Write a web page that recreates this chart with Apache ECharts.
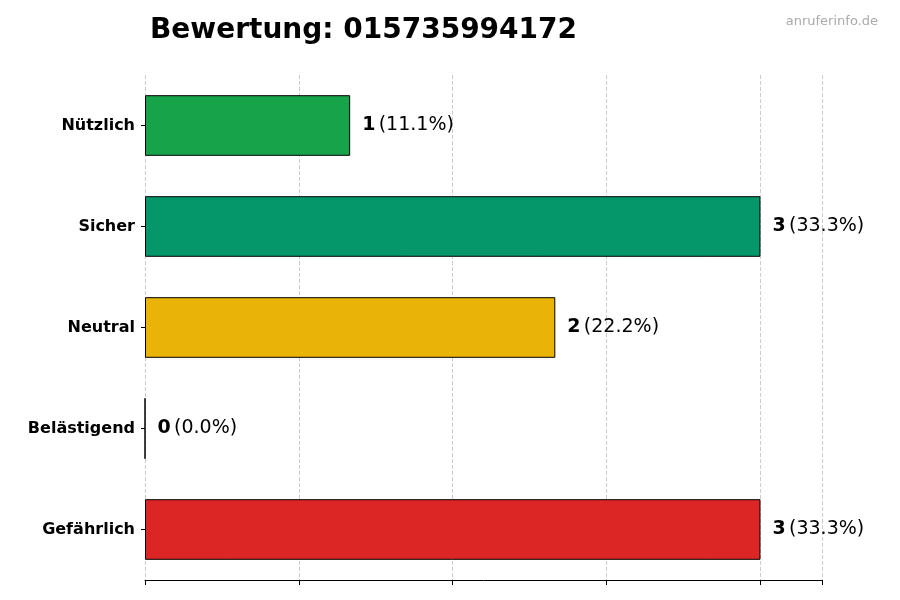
<!DOCTYPE html>
<html><head><meta charset="utf-8">
<script src="https://cdn.jsdelivr.net/npm/echarts@6/dist/echarts.min.js"></script>
<style>html,body{margin:0;padding:0;background:#fff}#c{width:900px;height:600px}</style>
</head><body><div id="c"></div>
<script>
const categories = ["Nützlich","Sicher","Neutral","Belästigend","Gefährlich"];
const counts = [1,3,2,0,3];
const percents = ["11.1%","33.3%","22.2%","0.0%","33.3%"];
const colors = ["#16a34a","#059669","#eab308","#dc2626","#dc2626"];
const barColors = ["#16a34a","#059669","#eab308","#9ca3af","#dc2626"];
const chart = echarts.init(document.getElementById('c'));
chart.setOption({
  animation:false,
  title:[{text:"Bewertung: 015735994172",left:145,top:12,textStyle:{fontFamily:"DejaVu Sans",fontSize:28,fontWeight:"bold",color:"#000"}},
         {text:"anruferinfo.de",right:17,top:10,textStyle:{fontFamily:"DejaVu Sans",fontSize:13,fontWeight:"normal",color:"#aaa"}}],
  grid:{left:145,right:78,top:75,bottom:20},
  xAxis:{type:"value",min:0,max:3.3,interval:0.75,
    axisLabel:{show:false},
    axisLine:{show:true,lineStyle:{color:"#000"}},
    axisTick:{show:true,length:5,lineStyle:{color:"#000"}},
    splitLine:{show:true,lineStyle:{color:"#ccc",type:"dashed"}}},
  yAxis:{type:"category",data:categories,inverse:true,
    axisLine:{show:false},axisTick:{show:true,alignWithLabel:true,length:4,lineStyle:{color:"#000"}},
    axisLabel:{fontFamily:"DejaVu Sans",fontSize:16,fontWeight:"bold",color:"#000",margin:10}},
  series:[{type:"bar",barWidth:"60%",
    data:counts.map((v,i)=>({value:v,itemStyle:{color:barColors[i],borderColor:"#000",borderWidth:1}})),
    label:{show:true,position:"right",distance:12,
      formatter:p=>"{b|"+counts[p.dataIndex]+"} {n|("+percents[p.dataIndex]+")}",
      rich:{b:{fontFamily:"DejaVu Sans",fontSize:19,fontWeight:"bold",color:"#000"},
            n:{fontFamily:"DejaVu Sans",fontSize:19,color:"#000"}}}}]
});
</script></body></html>
